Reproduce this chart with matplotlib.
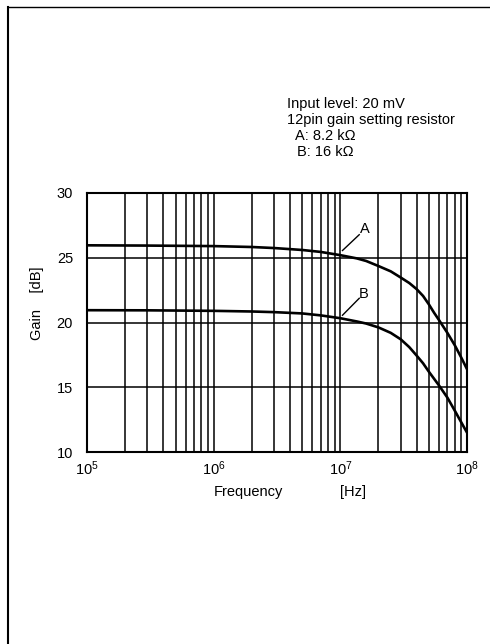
import numpy as np
import matplotlib
matplotlib.use("Agg")
import matplotlib.pyplot as plt
from matplotlib.lines import Line2D
from matplotlib.ticker import FixedLocator, NullFormatter

plt.rcParams["font.family"] = ["Liberation Sans", "DejaVu Sans"]
plt.rcParams["mathtext.fontset"] = "custom"
plt.rcParams["mathtext.rm"] = "Liberation Sans"
plt.rcParams["mathtext.it"] = "Liberation Sans"

# curve values
freq_a = [1e5, 3e5, 1e6, 2e6, 3e6, 5e6, 7e6, 1e7, 1.35e7, 1.6e7, 2e7, 2.5e7, 3e7,
          3.5e7, 4e7, 4.5e7, 5e7, 5.5e7, 6e7, 7e7, 8e7, 9e7, 1e8]
gain_a = [25.96, 25.94, 25.9, 25.83, 25.75, 25.6, 25.45, 25.2, 24.95, 24.75, 24.36, 23.95, 23.47,
          23.05, 22.58, 22.05, 21.4, 20.75, 20.2, 19.2, 18.25, 17.3, 16.4]
freq_b = [1e5, 3e5, 1e6, 2e6, 3e6, 5e6, 7e6, 1e7, 1.35e7, 1.6e7, 2e7, 2.5e7, 3e7,
          3.5e7, 4e7, 4.5e7, 5e7, 6e7, 7e7, 8e7, 9e7, 1e8]
gain_b = [20.95, 20.94, 20.9, 20.85, 20.8, 20.7, 20.55, 20.33, 20.08, 19.92, 19.62, 19.2, 18.7,
          18.1, 17.45, 16.85, 16.2, 15.15, 14.2, 13.2, 12.3, 11.5]

y_ticks = [10, 15, 20, 25, 30]
x_decades = [1e5, 1e6, 1e7, 1e8]
x_labels = ["$10^{5}$", "$10^{6}$", "$10^{7}$", "$10^{8}$"]

notes = ["Input level: 20 mV", "12pin gain setting resistor", "A: 8.2 k\u03a9", "B: 16 k\u03a9"]

fig = plt.figure(figsize=(4.9, 6.44), dpi=100)
ax = fig.add_axes([87 / 490, 1 - 452 / 644, 380 / 490, 259 / 644])

ax.set_xscale("log")
ax.set_xlim(1e5, 1e8)
ax.set_ylim(10, 30)

# full log grid: every integer multiple in each decade
grid_x = [m * d for d in x_decades[:-1] for m in range(2, 10)] + x_decades[1:-1]
for gx in grid_x:
    ax.axvline(gx, color="black", lw=1.1, zorder=1)
for gy in y_ticks[1:-1]:
    ax.axhline(gy, color="black", lw=1.1, zorder=1)

ax.plot(freq_a, gain_a, color="black", lw=1.9, zorder=3)
ax.plot(freq_b, gain_b, color="black", lw=1.9, zorder=3)

# curve labels with leader lines
ax.plot([1.04e7, 1.41e7], [25.56, 26.78], color="black", lw=1.0)
ax.text(1.55e7, 27.25, "A", fontsize=10.5, ha="center", va="center")
ax.plot([1.04e7, 1.41e7], [20.56, 21.87], color="black", lw=1.0)
ax.text(1.53e7, 22.2, "B", fontsize=10.5, ha="center", va="center")

ax.xaxis.set_major_locator(FixedLocator(x_decades))
ax.set_xticklabels(x_labels)
ax.xaxis.set_minor_formatter(NullFormatter())
ax.set_yticks(y_ticks)
ax.set_yticklabels([str(v) for v in y_ticks])
ax.tick_params(axis="both", which="both", length=0, labelsize=10.5)
ax.tick_params(axis="y", pad=10)
ax.tick_params(axis="x", pad=5)
for sp in ax.spines.values():
    sp.set_linewidth(1.5)

# axis titles placed like the original sheet
fig.text(36.7 / 490, 1 - 303 / 644, "Gain    [dB]", rotation=90, fontsize=10.5,
         ha="center", va="center")
fig.text(248 / 490, 1 - 492 / 644, "Frequency", fontsize=10.5, ha="center", va="center")
fig.text(353 / 490, 1 - 492 / 644, "[Hz]", fontsize=10.5, ha="center", va="center")

# condition notes
note_x = [287, 287, 295, 297]
note_y = [104, 120, 136, 152]
for t, nx, ny in zip(notes, note_x, note_y):
    fig.text(nx / 490, 1 - ny / 644, t, fontsize=10.5, ha="left", va="center")

# page border from the scan
fig.add_artist(Line2D([8 / 490, 1.0], [1 - 7 / 644, 1 - 7 / 644], color="black", lw=1.0))
fig.add_artist(Line2D([8 / 490, 8 / 490], [0.0, 1 - 7 / 644], color="black", lw=1.5))

fig.savefig("out.png", dpi=100)
